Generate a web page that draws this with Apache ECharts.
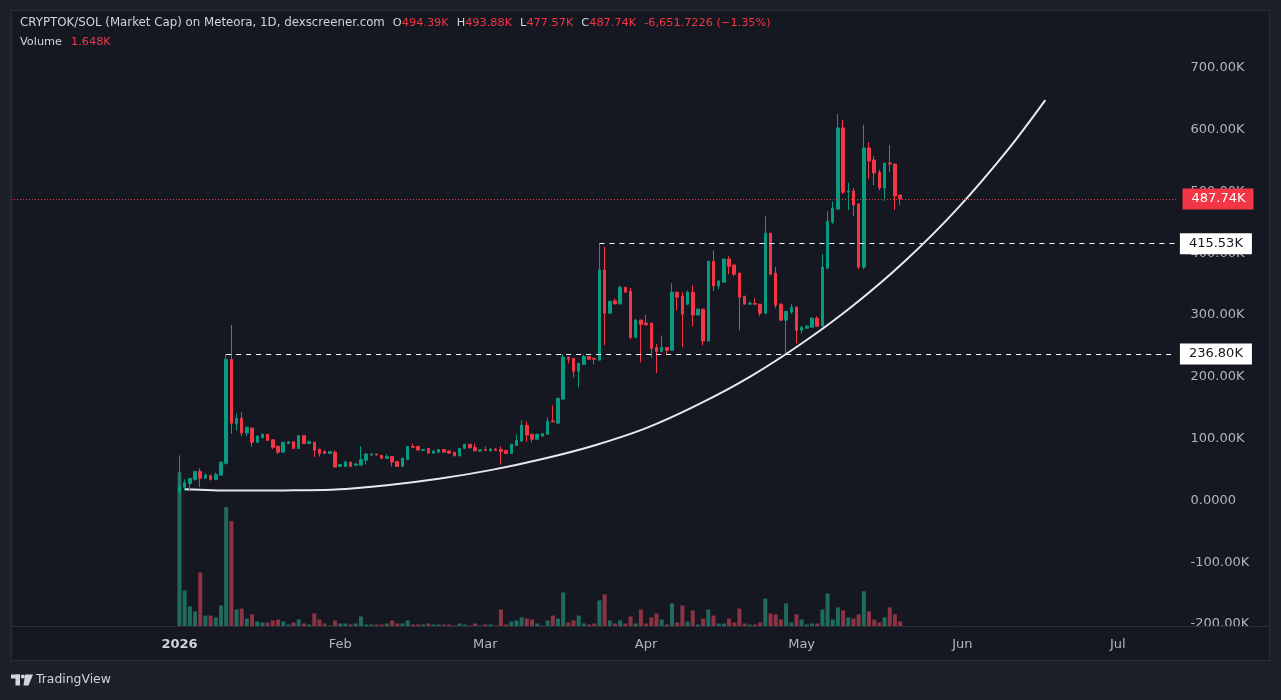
<!DOCTYPE html>
<html>
<head>
<meta charset="utf-8">
<title>CRYPTOK/SOL Market Cap</title>
<script src="https://cdn.jsdelivr.net/npm/echarts@6/dist/echarts.min.js"></script>
<style>
  html, body { margin: 0; padding: 0; background: #1e2029; }
  #panel { position: absolute; left: 11px; top: 10px; width: 1259px; height: 651px; box-sizing: border-box; background: #151821; border: 1px solid #2a2e39; }
  #chart { position: absolute; left: 0; top: 0; width: 1281px; height: 700px; }
</style>
</head>
<body>
<div id="panel"></div>
<div id="chart"></div>
<script>
// daily candles from 2026-01-01, values in K: [open, close, low, high]
const firstCandleDate = '2026-01-01'
const ohlc = [
  [13.5, 23, 11, 73], [21, 29, 16, 34], [27.5, 35.6, 15, 36], [34, 47, 32, 47], [47, 36, 21.6, 52],
  [36, 41, 35, 44], [40, 34, 32, 42], [34, 42, 33, 45], [41, 62, 40, 62], [60, 228.5, 58, 236.8],
  [228, 125, 108, 284], [124, 133, 113, 141], [133, 109, 104, 143], [109, 118, 104, 120], [117, 94, 87, 118],
  [94, 104, 93, 105], [102, 107, 100, 108], [107, 97, 97, 107], [98, 86, 83, 99], [87.5, 78, 75, 89],
  [78, 94, 78, 95], [92, 95, 92, 95], [95, 84, 84, 95], [84, 105, 84, 105], [105, 92, 92, 105],
  [92, 95, 92, 97], [94, 81, 70, 94], [83, 76, 71, 83], [79, 76, 76, 81], [76, 79, 76, 80],
  [78, 54, 54, 81], [55, 58, 55, 59], [55, 62, 55, 65], [62, 55, 55, 62], [57, 59, 56, 60],
  [57, 66, 57, 87.5], [65, 75, 58, 77], [73.5, 75, 72, 76], [75, 73.5, 73, 75], [73, 68, 68, 73],
  [68, 71, 68, 75], [71, 62, 55, 71], [63, 55, 54, 63], [55, 68.5, 55, 69], [66, 87.5, 66, 88],
  [87.5, 86, 86, 92], [87.5, 81.5, 81.5, 87.5], [81, 82.5, 80, 83], [84, 76.5, 76, 85], [76.5, 80, 76, 80],
  [78, 82.5, 78, 82.5], [82.5, 78, 78, 82.5], [80, 76.5, 76, 81], [78, 72, 72, 78], [72, 84, 72, 84],
  [84, 91, 84, 91], [91, 85, 85, 91], [86, 80, 80, 92], [80, 82, 78, 82], [82, 81, 80, 87.5],
  [80, 83, 80, 85], [83, 81, 81, 85], [82.5, 79, 58, 87.5], [81, 76, 76, 81], [76, 91, 76, 91],
  [89, 97, 89, 107], [96, 121.5, 95, 130], [121.5, 106, 94.5, 128], [107, 99, 94, 107], [99, 107, 99, 108],
  [104, 108, 104, 108], [107, 128, 107, 134], [128.5, 127, 127, 154], [125, 165, 125, 167], [164, 232, 162, 236.6],
  [232, 228.5, 222, 232], [230, 209, 199, 230], [209, 222, 183, 222], [220, 233, 220, 236], [233, 228.5, 228, 234],
  [230, 228.5, 220, 230], [227, 373, 226, 415.5], [373, 303, 251, 411], [303, 322.5, 303, 323], [323, 318, 318, 327],
  [318, 345, 318, 348], [345, 337, 337, 345], [339, 264, 261, 344], [264, 292, 264, 294], [292, 285, 223.6, 292],
  [287, 284, 284, 300], [287, 246, 231, 287], [247.5, 241, 206, 253], [241, 247.5, 240, 267], [247.5, 243, 237, 247.5],
  [243, 337, 243, 351.5], [337, 329, 308, 338], [330.6, 301.5, 248, 337], [317.6, 337, 316, 340], [337, 300, 282, 348],
  [300, 309.5, 300, 311], [309.5, 258, 251, 309.5], [258, 387, 258, 388], [387, 347, 339, 405], [347, 355, 342, 357],
  [353, 390.6, 353, 392], [390.6, 379, 366, 395], [381, 366, 363, 381], [368, 329, 275.5, 368], [330.6, 317.6, 317.6, 330.6],
  [317.6, 319, 317.6, 322.5], [319, 317.6, 317.6, 327], [317.6, 303, 298, 317.6], [303, 432.7, 301, 460], [432.7, 366, 366, 432.7],
  [368, 316, 311, 377.6], [317.6, 291.7, 291, 319], [291.7, 306, 238, 306], [304.7, 312.8, 302, 317.6], [312.8, 275.5, 254, 314],
  [275.5, 280.4, 270, 282], [278.7, 282, 278, 284], [280.4, 295, 280, 297], [295, 282, 282, 298], [282, 377.6, 282, 398.7],
  [376, 452, 374, 468], [450.6, 473, 447, 484], [471.6, 603, 470, 625.6], [603, 499, 496, 616], [499, 501, 470, 514],
  [501, 478, 460, 506], [480, 377.6, 374, 480], [377.6, 570.5, 374, 608], [570.5, 549.4, 520, 580], [551, 530, 510.5, 557.5],
  [531.6, 505.6, 502, 535], [505.6, 546, 484.6, 546], [546, 544.5, 531.6, 575], [544.5, 492.7, 470, 544.5], [494.39, 487.74, 477.57, 494.39]
]
const volumes = [
  50800, 11900, 6600, 5000, 17800, 3600, 3600, 3000, 6900, 39300,
  34700, 5600, 5900, 2600, 4000, 1650, 1320, 1320, 2000, 2300,
  1650, 660, 1320, 2300, 990, 660, 4300, 2300, 990, 330,
  2000, 990, 990, 660, 990, 3300, 660, 660, 660, 660,
  990, 2000, 990, 990, 2000, 660, 660, 660, 990, 660,
  660, 660, 660, 330, 990, 660, 330, 990, 330, 660,
  660, 330, 5600, 660, 1650, 2000, 3000, 2600, 2300, 990,
  330, 2000, 3600, 2600, 11200, 1320, 2000, 3600, 990, 660,
  990, 8600, 10600, 2000, 990, 2000, 990, 3300, 990, 5600,
  990, 3000, 4300, 2300, 660, 7600, 1320, 6900, 1650, 5300,
  660, 2600, 5600, 3600, 990, 990, 2600, 1320, 5900, 990,
  660, 660, 1320, 9200, 4300, 4000, 2300, 7600, 1320, 4000,
  2300, 660, 990, 990, 5600, 10900, 2300, 6300, 5300, 3000,
  2600, 4000, 11600, 5000, 2300, 1320, 3000, 6300, 4000, 1648
]

// hand-drawn curve, points (K)
const curveDates = ['2026-01-02', '2026-01-11', '2026-01-21', '2026-01-31', '2026-02-10', '2026-02-20',
  '2026-03-02', '2026-03-12', '2026-03-22', '2026-04-01', '2026-04-11', '2026-04-21', '2026-05-01',
  '2026-05-11', '2026-05-21', '2026-05-31', '2026-06-10', '2026-06-17']
const curveValues = [18.1, 15.9, 16.2, 17.5, 24.5, 35, 49, 67, 89, 117, 155, 200, 254, 316, 388, 472, 570, 648]

// horizontal levels
const levelValues = [236.80, 415.53]
const levelStarts = ['2026-01-10', '2026-03-23']
const lastPrice = 487.74

const priceTicks = [-200, -100, 0, 100, 200, 300, 400, 500, 600, 700]
const monthNames = ['Jan', 'Feb', 'Mar', 'Apr', 'May', 'Jun', 'Jul', 'Aug', 'Sep', 'Oct', 'Nov', 'Dec']

const headerTitle = 'CRYPTOK/SOL (Market Cap) on Meteora, 1D, dexscreener.com'
const legendOHLC = [['O', '494.39K'], ['H', '493.88K'], ['L', '477.57K'], ['C', '487.74K']]
const legendChange = '-6,651.7226 (\u22121.35%)'
const legendVolume = '1.648K'

const UP = '#089981'
const DOWN = '#f23645'
const FONT = 'DejaVu Sans'

// visible window: 2025-11-30 .. 2026-07-11
const dates = []
const t0 = Date.UTC(2025, 10, 30)
for (let i = 0; i < 225; i++) {
  dates.push(new Date(t0 + i * 86400000).toISOString().slice(0, 10))
}
const offset = dates.indexOf(firstCandleDate)

const candleData = ohlc.map((r, k) => [offset + k, r[0], r[1], r[2], r[3]])
const volumeData = volumes.map((v, k) => ({
  value: [offset + k, v],
  itemStyle: { color: ohlc[k][1] >= ohlc[k][0] ? '#1f6b5e' : '#8c3443' }
}))
const curveData = curveDates.map((d, i) => [d, curveValues[i]])

const lastDate = dates[dates.length - 1]
const levelLines = levelValues.map((v, i) => [
  { coord: [levelStarts[i], v] },
  {
    coord: [lastDate, v],
    label: {
      show: true, position: 'end', distance: 5,
      formatter: v.toFixed(2) + 'K',
      color: '#131722', backgroundColor: '#ffffff',
      fontFamily: FONT, fontSize: 13, padding: [4, 9, 4, 9]
    }
  }
])

const header = '{h|' + headerTitle + '}' +
  legendOHLC.map(p => '{k|' + p[0] + '}{v|' + p[1] + '}').join('') +
  '{v|' + legendChange + '}\n{vl|Volume}{v|' + legendVolume + '}'

const chart = echarts.init(document.getElementById('chart'))

chart.setOption({
  backgroundColor: 'transparent',
  animation: false,
  grid: { left: 11, right: 103.5, top: 10, bottom: 73.5 },
  xAxis: {
    type: 'category',
    data: dates,
    boundaryGap: true,
    axisLine: { show: false },
    axisTick: { show: false },
    splitLine: { show: false },
    axisLabel: {
      margin: 12,
      color: '#b2b5be',
      fontFamily: FONT,
      fontSize: 13,
      interval: (idx, value) => value.slice(0, 4) === '2026' && value.slice(8) === '01',
      formatter: value => {
        const m = +value.slice(5, 7)
        return m === 1 ? '{y|' + value.slice(0, 4) + '}' : monthNames[m - 1]
      },
      rich: { y: { color: '#d1d4dc', fontWeight: 'bold', fontFamily: FONT, fontSize: 13 } }
    }
  },
  yAxis: [{
    type: 'value',
    position: 'right',
    min: -204.1,
    max: 793.8,
    splitLine: { show: false },
    axisLine: { show: false },
    axisTick: { show: false },
    axisLabel: {
      margin: 13,
      color: '#b2b5be',
      fontFamily: FONT,
      fontSize: 13,
      customValues: priceTicks,
      formatter: v => v === 0 ? '0.0000' : v.toFixed(2) + 'K'
    }
  }, {
    type: 'value',
    min: 0,
    max: 203000,
    show: false
  }],
  series: [{
    name: 'Volume',
    type: 'bar',
    yAxisIndex: 1,
    barWidth: 4,
    data: volumeData,
    z: 1
  }, {
    name: 'Curve',
    type: 'line',
    data: curveData,
    smooth: 0.3,
    showSymbol: false,
    symbol: 'none',
    lineStyle: { color: '#e6e8ee', width: 2 },
    z: 2
  }, {
    name: 'CRYPTOK/SOL',
    type: 'candlestick',
    barWidth: 3,
    data: candleData,
    encode: { x: 0, y: [1, 2, 3, 4] },
    clip: false,
    itemStyle: { color: UP, color0: DOWN, borderColor: UP, borderColor0: DOWN, borderWidth: 1 },
    z: 3,
    markLine: {
      silent: true,
      symbol: ['none', 'none'],
      animation: false,
      label: { show: false },
      lineStyle: { color: '#ffffff', width: 1, type: [5, 5] },
      data: levelLines.concat([{
        yAxis: lastPrice,
        lineStyle: { color: DOWN, width: 1, type: [1, 2] },
        label: {
          show: true, position: 'end', distance: 5,
          formatter: lastPrice.toFixed(2) + 'K',
          color: '#ffffff', backgroundColor: DOWN,
          fontFamily: FONT, fontSize: 13, padding: [4, 8, 4, 9]
        }
      }])
    }
  }],
  graphic: [{
    type: 'rect',
    z: 50,
    shape: { x: 1178, y: 627, width: 91, height: 33 },
    style: { fill: '#151821' }
  }, {
    type: 'line',
    z: 51,
    shape: { x1: 12, y1: 626.5, x2: 1269, y2: 626.5 },
    style: { stroke: '#2a2e39', lineWidth: 1 }
  }, {
    type: 'text',
    left: 20,
    top: 17,
    z: 60,
    style: {
      text: header,
      rich: {
        h: { fill: '#d1d4dc', fontFamily: FONT, fontSize: 11.8, lineHeight: 19, padding: [0, 8, 0, 0] },
        k: { fill: '#d1d4dc', fontFamily: FONT, fontSize: 11.3, lineHeight: 19 },
        v: { fill: DOWN, fontFamily: FONT, fontSize: 11.3, lineHeight: 19, padding: [0, 8, 0, 0] },
        vl: { fill: '#d1d4dc', fontFamily: FONT, fontSize: 11.3, lineHeight: 19, padding: [0, 9, 0, 0] }
      }
    }
  }, {
    type: 'group',
    left: 11,
    top: 674,
    z: 60,
    children: [
      { type: 'rect', shape: { x: 0, y: 0, width: 9, height: 4 }, style: { fill: '#d1d4dc' } },
      { type: 'rect', shape: { x: 4.5, y: 0, width: 4.5, height: 11 }, style: { fill: '#d1d4dc' } },
      { type: 'circle', shape: { cx: 11.8, cy: 2, r: 2 }, style: { fill: '#d1d4dc' } },
      { type: 'polygon', shape: { points: [[14, 0], [22, 0], [17.5, 11], [12.5, 11]] }, style: { fill: '#d1d4dc' } },
      { type: 'text', x: 25, y: 5.5, style: { text: 'TradingView', fill: '#d1d4dc', fontFamily: FONT, fontSize: 12.4, verticalAlign: 'middle' } }
    ]
  }]
})
</script>
</body>
</html>
